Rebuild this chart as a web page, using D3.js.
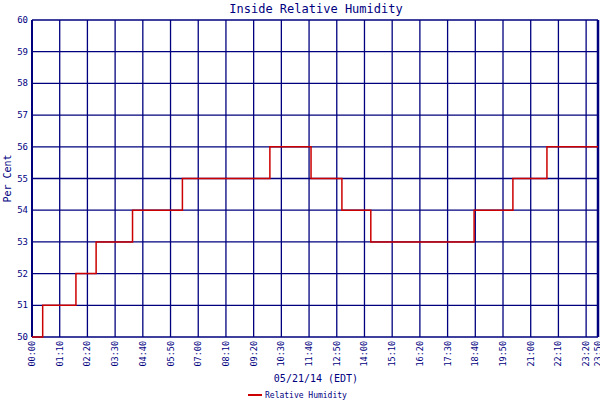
<!DOCTYPE html>
<html><head><meta charset="utf-8">
<script src="https://cdn.jsdelivr.net/npm/d3@7"></script>
<style>body{margin:0;background:#fff}text{font-family:"DejaVu Sans Mono",monospace;fill:#00007f}</style>
</head><body><div id="chart"></div>
<script>
// minutes since midnight where the reading changes, and the value from then on
const changeMinutes = [0, 27, 111, 162, 254, 380, 601, 705, 783, 856, 1117, 1215, 1301, 1430];
const humidity = [50, 51, 52, 53, 54, 55, 56, 55, 54, 53, 54, 55, 56, 56];
const tickLabels = ["00:00","01:10","02:20","03:30","04:40","05:50","07:00","08:10","09:20","10:30","11:40","12:50","14:00","15:10","16:20","17:30","18:40","19:50","21:00","22:10","23:20","23:50"];
const yTicks = [50,51,52,53,54,55,56,57,58,59,60];

const width = 600, height = 400;
const margin = {top: 20, right: 2, bottom: 63, left: 32};
const toMin = s => +s.slice(0,2)*60 + +s.slice(3);

const svg = d3.select("#chart").append("svg").attr("width", width).attr("height", height);
const x = d3.scaleLinear().domain([0, 1430]).range([margin.left, width - margin.right]);
const y = d3.scaleLinear().domain([50, 60]).range([height - margin.bottom, margin.top]);
const navy = "#00007f";

// grid
svg.append("g").selectAll("line").data(yTicks).join("line")
  .attr("x1", x(0)).attr("x2", x(1430)).attr("y1", d => y(d)).attr("y2", d => y(d))
  .attr("stroke", navy).attr("stroke-width", 1.3);
svg.append("g").selectAll("line").data(tickLabels).join("line")
  .attr("x1", d => x(toMin(d))).attr("x2", d => x(toMin(d)))
  .attr("y1", y(50)).attr("y2", y(60))
  .attr("stroke", navy).attr("stroke-width", 1.3);
svg.append("line").attr("x1", x(0)).attr("x2", x(0)).attr("y1", y(50)).attr("y2", y(60)).attr("stroke", navy).attr("stroke-width", 2);
svg.append("line").attr("x1", x(1430)).attr("x2", x(1430)).attr("y1", y(50)).attr("y2", y(60)).attr("stroke", navy).attr("stroke-width", 2.5);

// y labels
svg.append("g").selectAll("text").data(yTicks).join("text")
  .attr("x", x(0) - 4).attr("y", d => y(d) + 3).attr("text-anchor", "end")
  .attr("font-size", 9).text(d => d);

// x labels rotated
svg.append("g").selectAll("text").data(tickLabels).join("text")
  .attr("transform", d => `translate(${x(toMin(d)) + 3},${y(50) + 4}) rotate(-90)`)
  .attr("text-anchor", "end").attr("font-size", 8.5).text(d => d);

// step line
const line = d3.line().x((d, i) => x(changeMinutes[i])).y(d => y(d)).curve(d3.curveStepAfter);
svg.append("path").datum(humidity).attr("d", line)
  .attr("fill", "none").attr("stroke", "#cc0000").attr("stroke-width", 1.5);

// titles
svg.append("text").attr("x", 316).attr("y", 13).attr("text-anchor", "middle").attr("font-size", 12).text("Inside Relative Humidity");
svg.append("text").attr("transform", `translate(11,${(y(50)+y(60))/2}) rotate(-90)`).attr("text-anchor", "middle").attr("font-size", 10).text("Per Cent");
svg.append("text").attr("x", 316).attr("y", 382).attr("text-anchor", "middle").attr("font-size", 10).text("05/21/14 (EDT)");

// legend
svg.append("line").attr("x1", 248).attr("x2", 262).attr("y1", 395).attr("y2", 395).attr("stroke", "#cc0000").attr("stroke-width", 2);
svg.append("text").attr("x", 265).attr("y", 398).attr("font-size", 8).text("Relative Humidity");
</script></body></html>
